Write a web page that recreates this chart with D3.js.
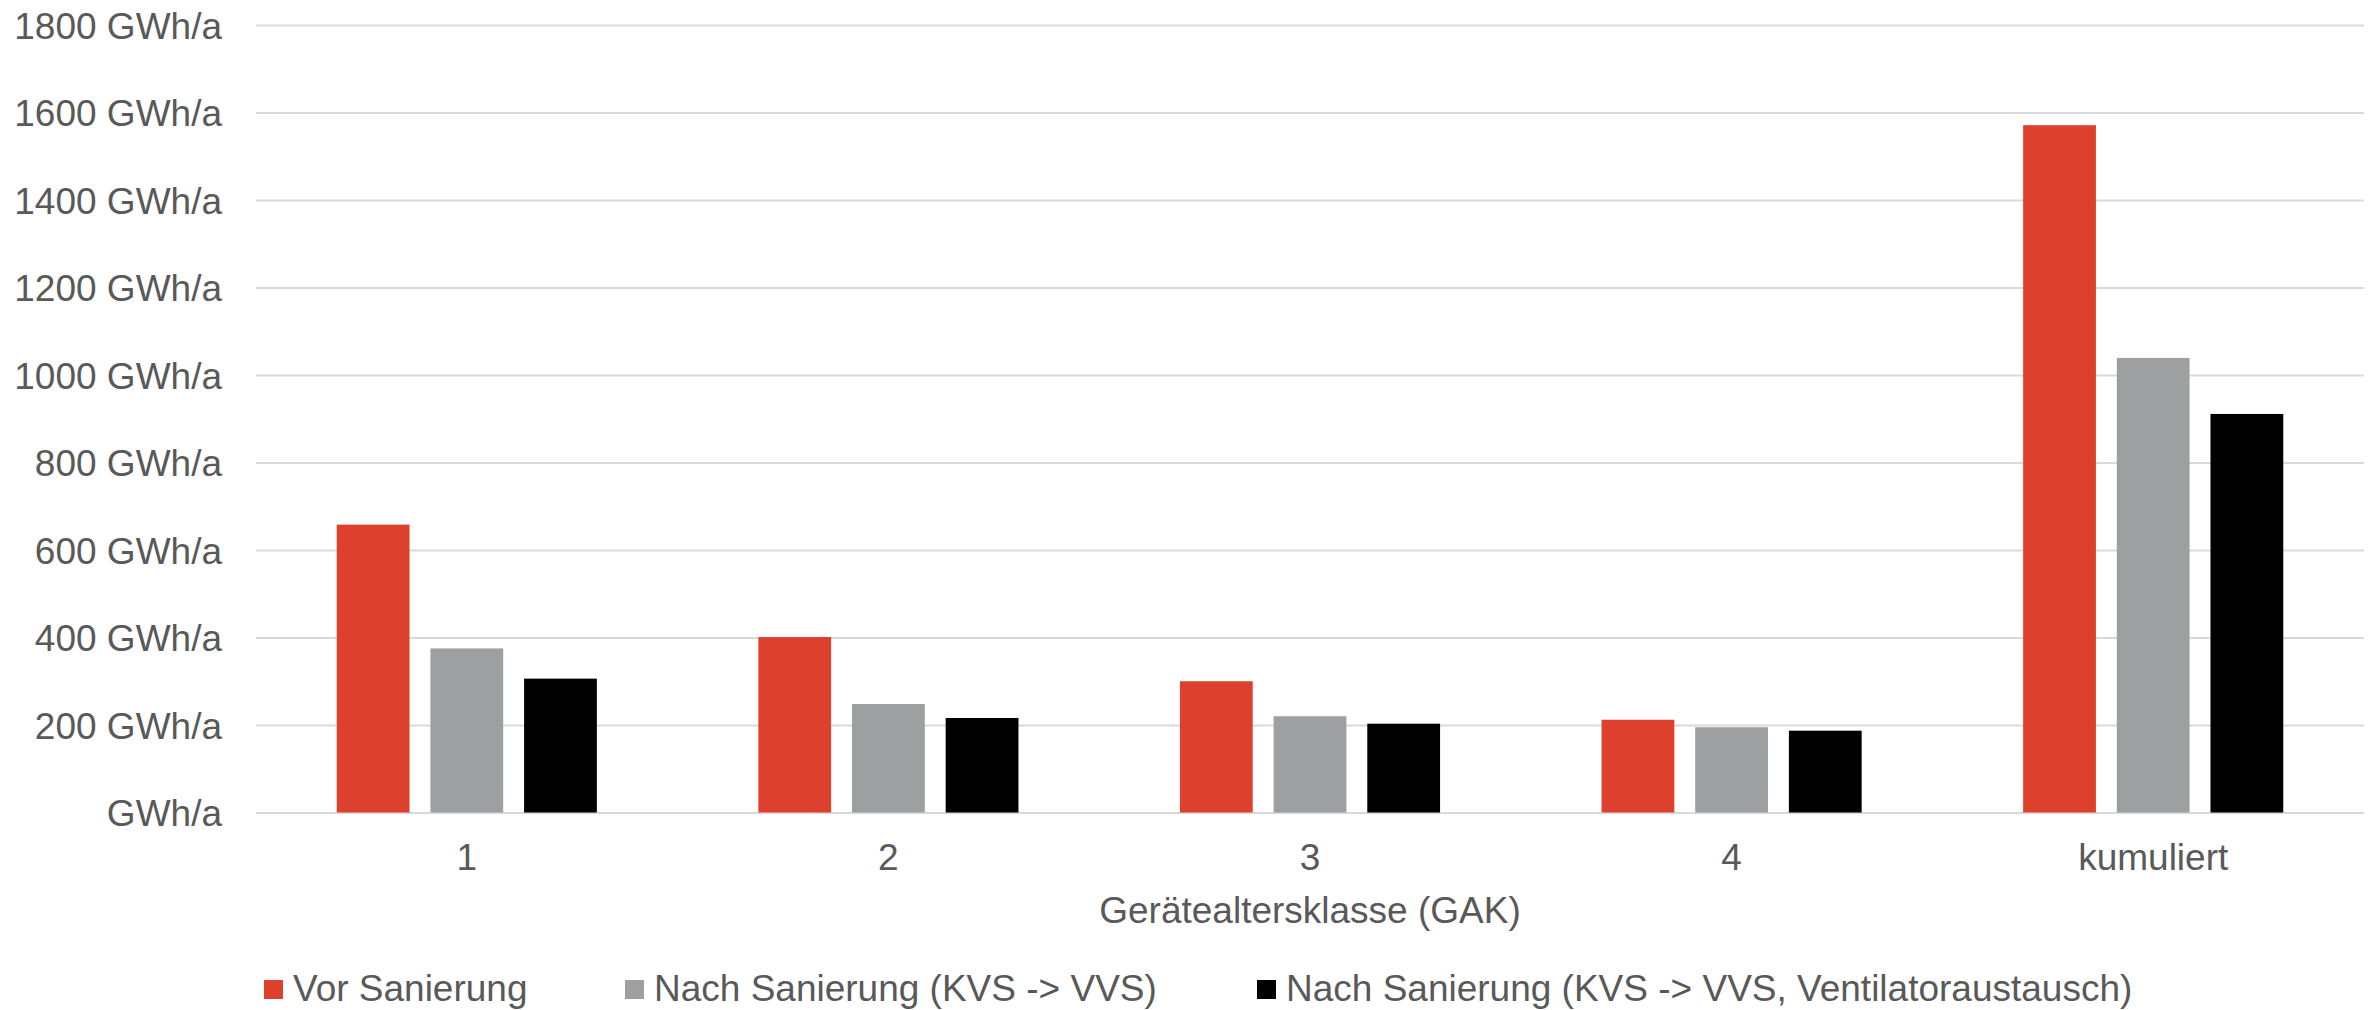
<!DOCTYPE html>
<html>
<head>
<meta charset="utf-8">
<script src="https://cdn.jsdelivr.net/npm/d3@7"></script>
<style>
  body { margin: 0; background: #fff; }
  text { font-family: "Liberation Sans", Arial, sans-serif; fill: #595959; }
</style>
</head>
<body>
<div id="chart"></div>
<script>
const chartWidth = 2379;
const chartHeight = 1010;

const margin = { top: 25, bottom: 197.5, left: 256, right: 15 };
const fontSize = 37;

// values (GWh/a)
const categories = ["1", "2", "3", "4", "kumuliert"];
const seriesNames = [
  "Vor Sanierung",
  "Nach Sanierung (KVS -> VVS)",
  "Nach Sanierung (KVS -> VVS, Ventilatoraustausch)"
];
const vorSanierung = [658, 401, 300, 212, 1571];
const nachKvsVvs = [375, 248, 220, 195, 1039];
const nachVentilator = [306, 216, 203, 187, 911];
const yTicks = [0, 200, 400, 600, 800, 1000, 1200, 1400, 1600, 1800];
const xTitle = "Gerätealtersklasse (GAK)";

const seriesValues = [vorSanierung, nachKvsVvs, nachVentilator];
const colors = ["#DE402E", "#9E9FA0", "#000000"];

const svg = d3.select("#chart")
  .append("svg")
  .attr("width", chartWidth)
  .attr("height", chartHeight);

const plotW = chartWidth - margin.left - margin.right;
const baseY = chartHeight - margin.bottom;

// Excel-like category placement: centers at (i + .5) * step
const gap = 0.383;
const x0 = d3.scaleBand()
  .domain(categories)
  .range([margin.left, margin.left + plotW])
  .paddingInner(gap)
  .paddingOuter(gap / 2);

const x1 = d3.scaleBand()
  .domain(d3.range(seriesNames.length))
  .range([0, x0.bandwidth()])
  .paddingInner(0.223);

const y = d3.scaleLinear()
  .domain([0, 1800])
  .range([baseY, margin.top]);

// y axis + gridlines
const yAxis = d3.axisLeft(y)
  .tickValues(yTicks)
  .tickSize(-plotW)
  .tickPadding(34)
  .tickFormat(d => (d === 0 ? "" : d + " ") + "GWh/a");

const gy = svg.append("g")
  .attr("transform", "translate(" + margin.left + ",0)")
  .call(yAxis);
gy.select(".domain").remove();
gy.selectAll("line").attr("stroke", "#D9D9D9").attr("stroke-width", 2);
gy.selectAll("text")
  .attr("font-size", fontSize)
  .attr("dy", "0.36em")
  .style("fill", "#595959");

// bars
seriesValues.forEach((vals, s) => {
  svg.append("g")
    .selectAll("rect")
    .data(vals)
    .enter().append("rect")
    .attr("x", (d, i) => x0(categories[i]) + x1(s))
    .attr("width", x1.bandwidth())
    .attr("y", d => y(d))
    .attr("height", d => baseY - y(d))
    .attr("fill", colors[s]);
});

// x axis labels
const xAxis = d3.axisBottom(x0).tickSize(0).tickPadding(0);
const gx = svg.append("g")
  .attr("transform", "translate(0," + baseY + ")")
  .call(xAxis);
gx.select(".domain").remove();
gx.selectAll("text")
  .attr("font-size", fontSize)
  .attr("y", 57.5)
  .attr("dy", 0)
  .style("fill", "#595959");

svg.append("text")
  .attr("x", margin.left + plotW / 2)
  .attr("y", 923)
  .attr("text-anchor", "middle")
  .attr("font-size", fontSize)
  .text(xTitle);

// legend: item offsets as in the original layout
const legendOffsets = [0, 361, 993];
const legend = svg.append("g")
  .attr("transform", "translate(264,1001)");
const items = legend.selectAll("g")
  .data(seriesNames)
  .enter().append("g")
  .attr("transform", (d, i) => "translate(" + legendOffsets[i] + ",0)");
items.append("rect")
  .attr("width", 19)
  .attr("height", 19)
  .attr("y", -21)
  .attr("fill", (d, i) => colors[i]);
items.append("text")
  .attr("x", 29)
  .attr("font-size", fontSize)
  .text(d => d);
</script>
</body>
</html>
